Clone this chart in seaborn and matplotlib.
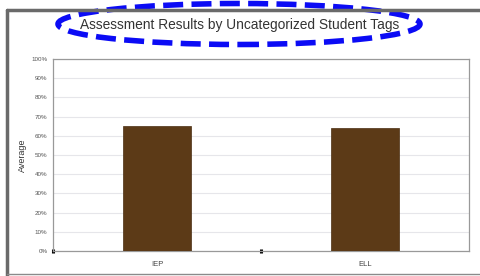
import matplotlib
matplotlib.use('Agg')
import matplotlib.pyplot as plt
import seaborn as sns
import pandas as pd
from matplotlib.patches import Ellipse
from matplotlib.lines import Line2D
from matplotlib.ticker import PercentFormatter

# Data
tags = ['IEP', 'ELL']
averages = [65, 64]
y_ticks = [0, 10, 20, 30, 40, 50, 60, 70, 80, 90, 100]

df = pd.DataFrame({'tag': tags, 'average': averages})

sns.set_style('white')
plt.rcParams['font.family'] = ['Liberation Sans', 'DejaVu Sans']

fig = plt.figure(figsize=(4.8, 2.76), dpi=100)
ax = fig.add_axes([53 / 480, 1 - 251 / 276, 416 / 480, 192 / 276])

sns.barplot(data=df, x='tag', y='average', color='#5c3a17', width=0.33,
            saturation=1, edgecolor='#4a2e12', linewidth=0.5, ax=ax, zorder=3)

ax.set_xlim(-0.5, 1.5)
ax.set_ylim(0, 100)
ax.set_yticks(y_ticks)
ax.yaxis.set_major_formatter(PercentFormatter(decimals=0))
ax.grid(axis='y', color='#e6e6ea', linewidth=0.8, zorder=0)
for s in ax.spines.values():
    s.set_color('#999999')
    s.set_linewidth(0.9)

ax.tick_params(axis='y', labelsize=4.5, colors='#555555', length=0, pad=4)
ax.tick_params(axis='x', labelsize=5.5, colors='#444444', length=0, pad=7)
ax.set_xticks([-0.5, 0.5], minor=True)
ax.tick_params(axis='x', which='minor', bottom=True, length=2.5, width=2.2,
               color='black', direction='inout')
ax.set_xlabel('')
ax.set_ylabel('Average', fontsize=6.5, color='#333333')
ax.yaxis.set_label_coords(-0.063, 0.5)

# gray frame around the chart
fig.add_artist(Line2D([7 / 480, 1], [1 - 10 / 276, 1 - 10 / 276], transform=fig.transFigure,
                      color='#6a6a6a', linewidth=2.5))
fig.add_artist(Line2D([7 / 480, 7 / 480], [0, 1 - 10 / 276], transform=fig.transFigure,
                      color='#6a6a6a', linewidth=2.5))
fig.add_artist(Line2D([7 / 480, 1], [1 - 274 / 276, 1 - 274 / 276], transform=fig.transFigure,
                      color='#8a8a8a', linewidth=1))

fig.text(240 / 480, 1 - 25 / 276, 'Assessment Results by Uncategorized Student Tags',
         ha='center', va='center', fontsize=9.9, color='#333333')

# blue dashed highlight around the title
fig.add_artist(Ellipse((239 / 480, 1 - 24 / 276), 362 / 480, 41 / 276,
                       transform=fig.transFigure, fill=False, edgecolor='#0b0bf5',
                       linewidth=4, linestyle=(0, (3.6, 1.5))))

plt.savefig('out.png', dpi=100)
